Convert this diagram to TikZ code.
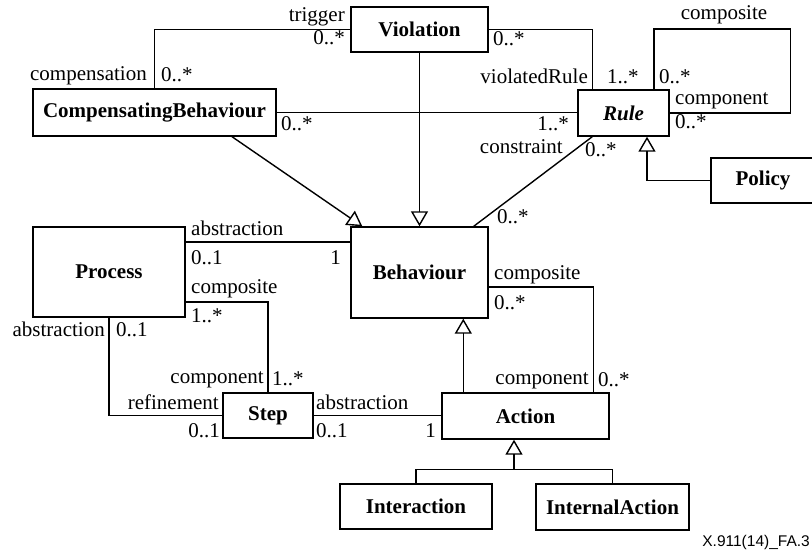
\documentclass[tikz,border=0pt]{standalone}
\usepackage{fontspec}
\setmainfont{Liberation Serif}
\newfontfamily\footfont{Liberation Sans}
\usetikzlibrary{arrows.meta,calc}
\begin{document}
\begin{tikzpicture}[x=1pt,y=-1pt,
  box/.style={draw, line width=1.4pt, inner sep=0pt, font=\fontsize{21}{24}\selectfont\bfseries},
  conn/.style={line width=1.4pt},
  gen/.style={line width=1.4pt, -{Triangle[open,length=15pt,width=17pt]}},
  lbl/.style={inner sep=0pt, font=\fontsize{21}{24}\selectfont},
]
\useasboundingbox (0,0) rectangle (812,553);
% classes
\node[box, minimum width=137pt, minimum height=45pt] (viol) at (419.5,29.5) {Violation};
\node[box, minimum width=243pt, minimum height=47pt] (cb) at (154.5,112.5) {CompensatingBehaviour};
\node[box, minimum width=91pt, minimum height=46pt] (rule) at (623.5,113) {\itshape Rule};
\node[box, minimum width=104pt, minimum height=45pt] (policy) at (763,180.5) {Policy};
\node[box, minimum width=152pt, minimum height=90pt] (proc) at (109,272) {Process};
\node[box, minimum width=137pt, minimum height=91pt] (beh) at (419.5,272.5) {Behaviour};
\node[box, minimum width=90pt, minimum height=45pt] (step) at (268,415.5) {Step};
\node[box, minimum width=167pt, minimum height=46pt] (action) at (525.5,416) {Action};
\node[box, minimum width=152pt, minimum height=45pt] (inter) at (416,506.5) {Interaction};
\node[box, minimum width=153pt, minimum height=46pt] (intact) at (612.5,507) {InternalAction};
% helper coordinates
\coordinate (vr) at ($(rule.north west)+(15,0)$);
\coordinate (rc) at ($(rule.east)+(121,0)$);
\coordinate (pb) at ($(proc.east)+(0,-30)$);
\coordinate (ps) at ($(proc.east)+(0,30)$);
\coordinate (ba) at ($(beh.east)+(0,14.5)$);
\coordinate (ac) at ($(action.north east)+(-16,0)$);
\coordinate (ab) at ($(action.north west)+(22,0)$);
\coordinate (as) at ($(action.south)+(-11.5,0)$);
\coordinate (aj) at ($(as)+(0,30)$);
% connectors
\draw[conn] (viol.west) -| (cb.north);
\draw[conn] (viol.east) -| (vr);
\draw[gen] (viol.south) -- (beh.north);
\draw[conn] (cb.east) -- (cb.east -| rule.west);
\draw[gen] ($(cb.south)+(77.5,0)$) -- ($(beh.north west)+(12,0)$);
\draw[conn] (vr |- rule.south) -- ($(beh.north east)+(-15,0)$);
\draw[conn] ($(rule.north)+(30.5,0)$) |- ($(rc)+(0,-84)$) -- (rc) -- (rule.east);
\draw[gen] (policy.west) -| ($(rule.south)+(23.5,0)$);
\draw[conn] (pb) -- (pb -| beh.west);
\draw[conn] (ps) -| (step.north);
\draw[conn] (proc.south) |- (step.west);
\draw[conn] (step.east) -- (step.east -| action.west);
\draw[conn] (ba) -| (ac);
\draw[gen] (ab) -- (ab |- beh.south);
\draw[gen] (aj) -- (as);
\draw[conn] (inter.north) |- (aj) -| (intact.north);
% labels
\node[lbl, anchor=base east] (l1) at (345,22) {trigger};
\node[lbl, anchor=base east] (l2) at (345,45) {0..*};
\node[lbl, anchor=base east] (l3) at (147,81) {compensation};
\node[lbl, anchor=base west] (l4) at (161,82) {0..*};
\node[lbl, anchor=base west] (l5) at (493,46) {0..*};
\node[lbl, anchor=base east] (l6) at (588,84) {violatedRule};
\node[lbl, anchor=base west] (l7) at (607,84) {1..*};
\node[lbl, anchor=base west] (l8) at (281,131) {0..*};
\node[lbl, anchor=base east] (l9) at (569,131) {1..*};
\node[lbl, anchor=base east] (l10) at (563,154) {constraint};
\node[lbl, anchor=base west] (l11) at (585,157) {0..*};
\node[lbl, anchor=base west] (l12) at (497,224) {0..*};
\node[lbl, anchor=base] (l13) at (724,20) {composite};
\node[lbl, anchor=base west] (l14) at (659,84) {0..*};
\node[lbl, anchor=base west] (l15) at (675,105) {component};
\node[lbl, anchor=base west] (l16) at (675,129) {0..*};
\node[lbl, anchor=base west] (l17) at (191,236) {abstraction};
\node[lbl, anchor=base west] (l18) at (191,265) {0..1};
\node[lbl, anchor=base east] (l19) at (341,265) {1};
\node[lbl, anchor=base west] (l20) at (191,294) {composite};
\node[lbl, anchor=base west] (l21) at (191,323) {1..*};
\node[lbl, anchor=base east] (l22) at (264,384) {component};
\node[lbl, anchor=base west] (l23) at (272,386) {1..*};
\node[lbl, anchor=base east] (l24) at (105,337) {abstraction};
\node[lbl, anchor=base west] (l25) at (116,337) {0..1};
\node[lbl, anchor=base east] (l26) at (219,410) {refinement};
\node[lbl, anchor=base east] (l27) at (220,438) {0..1};
\node[lbl, anchor=base west] (l28) at (316,410) {abstraction};
\node[lbl, anchor=base west] (l29) at (316,438) {0..1};
\node[lbl, anchor=base east] (l30) at (436,438) {1};
\node[lbl, anchor=base west] (l31) at (494,280) {composite};
\node[lbl, anchor=base west] (l32) at (494,310) {0..*};
\node[lbl, anchor=base east] (l33) at (589,385) {component};
\node[lbl, anchor=base west] (l34) at (598,387) {0..*};
\node[inner sep=0pt, anchor=base east, font=\footfont\fontsize{15.5}{18}\selectfont] (foot) at (810,546) {X.911(14)\_FA.3};
\end{tikzpicture}
\end{document}
